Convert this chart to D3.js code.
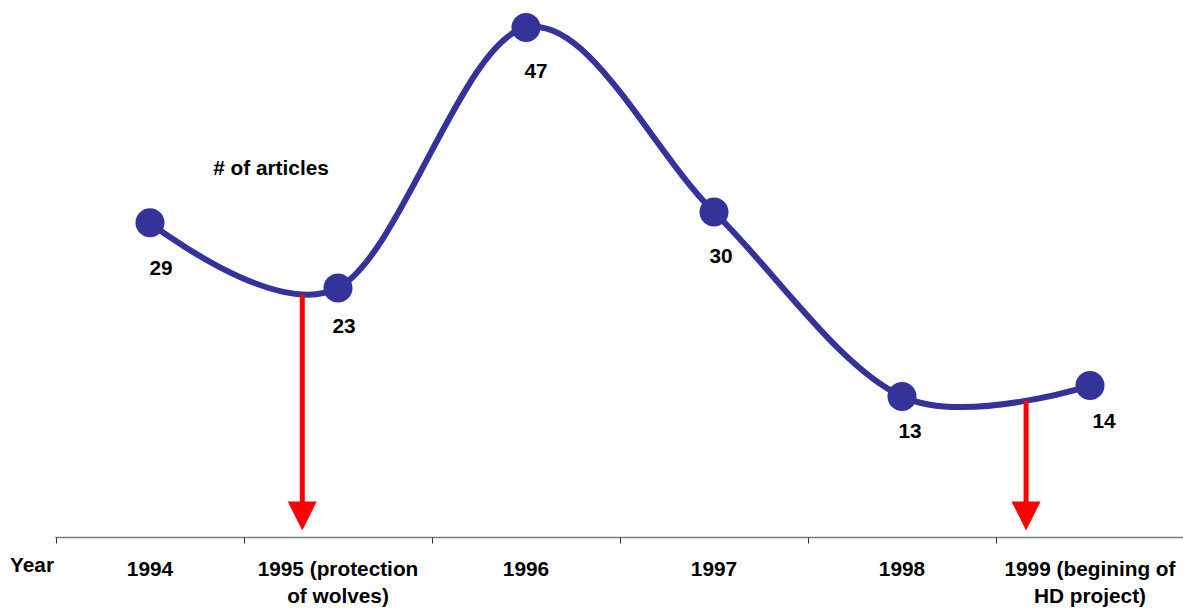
<!DOCTYPE html>
<html>
<head>
<meta charset="utf-8">
<script src="https://cdn.jsdelivr.net/npm/d3@7/dist/d3.min.js"></script>
<style>
  html, body { margin: 0; padding: 0; background: #fff; }
  svg { display: block; }
  text { font-family: Arial, "Liberation Sans", sans-serif; font-weight: bold; fill: #000; }
</style>
</head>
<body>
<div id="chart"></div>
<script>
// ---- data ----
const categories = ["1994", "1995", "1996", "1997", "1998", "1999"];
const tickLines = [
  ["1994"],
  ["1995 (protection", "of wolves)"],
  ["1996"],
  ["1997"],
  ["1998"],
  ["1999 (begining of", "HD project)"]
];
const articles = [29, 23, 47, 30, 13, 14];
const seriesName = "# of articles";
const axisTitle = "Year";
// event arrows, positioned in category-index units along the x axis
const arrowAt = [0.81, 4.66];

// ---- layout ----
const W = 1183, H = 608;
const FS = "20.8px";
const labelNudge = [[11, 52], [6, 45], [10, 50], [7, 51], [8, 42], [14, 42]];

const svg = d3.select("#chart").append("svg").attr("width", W).attr("height", H);

const x = d3.scaleLinear().domain([-0.5, categories.length - 0.5]).range([56, 1184]);
const y = d3.scaleLinear().domain([0, 47]).range([537.5, 27.5]);

// axis line + ticks
const axis = d3.axisBottom(x)
  .tickValues(d3.range(-0.5, categories.length, 1))
  .tickSize(6)
  .tickFormat("");
const gAxis = svg.append("g").attr("transform", `translate(0,${y(0)})`).call(axis);
gAxis.select(".domain").attr("stroke", "#7f7f7f").attr("stroke-width", 1.5).attr("d", `M${x(-0.5)},0.5V0H${x(categories.length - 0.5)}`);
gAxis.selectAll(".tick line").attr("stroke", "#333").attr("stroke-width", 1);

// category labels
const gLab = svg.append("g");
tickLines.forEach((lines, i) => {
  const t = gLab.append("text")
    .attr("x", x(i)).attr("y", 576)
    .attr("text-anchor", "middle")
    .style("font-size", FS);
  lines.forEach((ln, k) => {
    t.append("tspan").attr("x", x(i)).attr("dy", k === 0 ? 0 : 27).text(ln);
  });
});
svg.append("text").attr("x", 54).attr("y", 572).attr("text-anchor", "end")
  .style("font-size", FS).text(axisTitle);

// line
const pts = articles.map((v, i) => [x(i), y(v)]);
const line = d3.line().curve(d3.curveCatmullRom.alpha(0));
const path = svg.append("path")
  .attr("d", line(pts))
  .attr("fill", "none")
  .attr("stroke", "#333399")
  .attr("stroke-width", 6)
  .attr("stroke-linecap", "round");

// find y of curve at given x
function curveYAt(px) {
  const node = path.node();
  const L = node.getTotalLength();
  let lo = 0, hi = L;
  for (let k = 0; k < 40; k++) {
    const mid = (lo + hi) / 2;
    if (node.getPointAtLength(mid).x < px) lo = mid; else hi = mid;
  }
  return node.getPointAtLength((lo + hi) / 2).y;
}

// arrows
const gArr = svg.append("g");
arrowAt.forEach(a => {
  const ax = x(a);
  const top = curveYAt(ax);
  const tip = y(0) - 7;
  const headH = 29, headW = 29;
  gArr.append("line")
    .attr("x1", ax).attr("x2", ax)
    .attr("y1", top).attr("y2", tip - headH + 1)
    .attr("stroke", "#ff0000").attr("stroke-width", 5);
  gArr.append("path")
    .attr("d", `M${ax - headW / 2},${tip - headH}L${ax + headW / 2},${tip - headH}L${ax},${tip}Z`)
    .attr("fill", "#ff0000");
});

// markers
svg.append("g").selectAll("circle").data(articles).join("circle")
  .attr("cx", (d, i) => x(i)).attr("cy", d => y(d))
  .attr("r", 14.5).attr("fill", "#333399");

// value labels
svg.append("g").selectAll("text").data(articles).join("text")
  .attr("x", (d, i) => x(i) + labelNudge[i][0])
  .attr("y", d => y(d))
  .attr("dy", (d, i) => labelNudge[i][1])
  .attr("text-anchor", "middle")
  .style("font-size", FS)
  .text(d => d);

// series label
svg.append("text").attr("x", 271).attr("y", 175).attr("text-anchor", "middle")
  .style("font-size", FS).text(seriesName);
</script>
</body>
</html>
